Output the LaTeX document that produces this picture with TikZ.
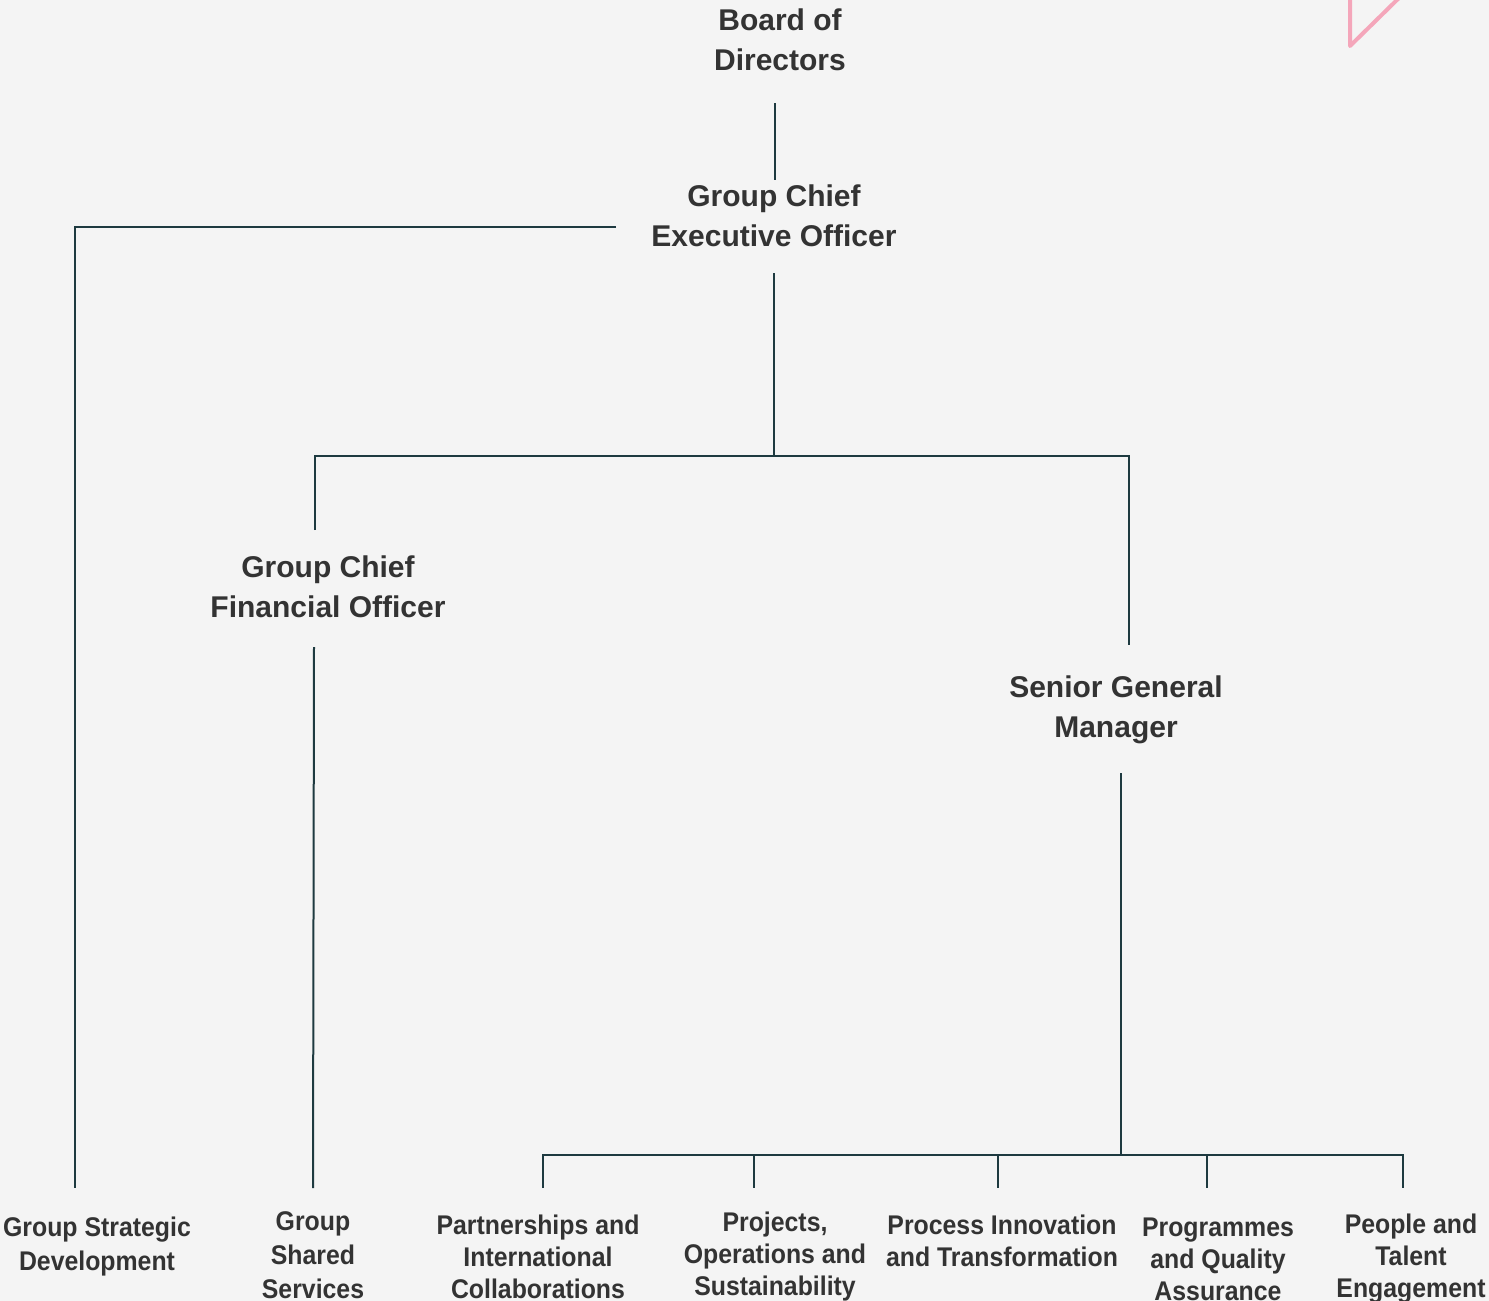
\documentclass[tikz,border=0pt]{standalone}
\usepackage{fontspec}
\setmainfont{Liberation Sans}
\newfontfamily\condfont[FakeStretch=0.92]{Liberation Sans}
\definecolor{bg}{HTML}{F4F4F4}
\definecolor{txt}{HTML}{333333}
\definecolor{ln}{HTML}{1E3A40}
\definecolor{pink}{HTML}{F4A6BA}
\begin{document}
\begin{tikzpicture}[x=1pt,y=-1pt,
  head/.style={font=\fontsize{30}{40}\selectfont\bfseries,text=txt,align=center,inner sep=0pt},
  unit/.style={font=\condfont\fontsize{27}{32}\selectfont\bfseries,text=txt,align=center,inner sep=0pt},
  unitwide/.style={unit,font=\condfont\fontsize{27}{34}\selectfont\bfseries},
  conn/.style={draw=ln,line width=2pt}]
\fill[bg] (0,0) rectangle (1489,1301);
\useasboundingbox (0,0) rectangle (1489,1301);
% decorative pink mark
\draw[pink,line width=4pt,line join=round,line cap=round] (1350,-5) -- (1350,46) -- (1402,-5);
% heads
\node[head] (bod) at (780,40) {Board of\\Directors};
\node[head] (ceo) at (774,216) {Group Chief\\Executive Officer};
\node[head] (cfo) at (328,587) {Group Chief\\Financial Officer};
\node[head] (sgm) at (1116,710) {Senior General\\Manager};
% units
\node[unitwide] (gsd) at (97,1247) {Group Strategic\\Development};
\node[unitwide] (gss) at (313,1255) {Group\\Shared\\Services};
\node[unit] (pic) at (538,1257) {Partnerships and\\International\\Collaborations};
\node[unit] (pos) at (775,1257) {Projects,\\Operations and\\Sustainability};
\node[unit] (pit) at (1002,1241) {Process Innovation\\and Transformation};
\node[unit] (pqa) at (1218,1259) {Programmes\\and Quality\\Assurance};
\node[unit] (pte) at (1411,1259) {People and\\Talent\\Engagement};
% coordinates
\coordinate (bodB) at (775,103);
\coordinate (ceoT) at (775,180);
\coordinate (ceoB) at (774,273);
\coordinate (ceoJ) at (774,456);
\coordinate (jL) at (315,456);
\coordinate (jR) at (1129,456);
\coordinate (cfoT) at (315,530);
\coordinate (sgmT) at (1129,645);
\coordinate (ceoL) at (616,227);
\coordinate (gsdC) at (75,227);
\coordinate (gsdT) at (75,1188);
\coordinate (cfoB) at (314,647);
\coordinate (gssT) at (313,1188);
\coordinate (sgmB) at (1121,773);
\coordinate (sgmJ) at (1121,1155);
\coordinate (bL) at (543,1155);
\coordinate (bR) at (1403,1155);
\coordinate (picT) at (543,1188);
\coordinate (posJ) at (754,1155);
\coordinate (posT) at (754,1188);
\coordinate (pitJ) at (998,1155);
\coordinate (pitT) at (998,1188);
\coordinate (pqaJ) at (1207,1155);
\coordinate (pqaT) at (1207,1188);
\coordinate (pteT) at (1403,1188);
% connectors
\draw[conn] (bodB) -- (ceoT);
\draw[conn] (ceoB) -- (ceoJ);
\draw[conn] (cfoT) -- (jL) -- (jR) -- (sgmT);
\draw[conn] (ceoL) -- (gsdC) -- (gsdT);
\draw[conn] (cfoB) -- (gssT);
\draw[conn] (sgmB) -- (sgmJ);
\draw[conn] (picT) -- (bL) -- (bR) -- (pteT);
\draw[conn] (posJ) -- (posT);
\draw[conn] (pitJ) -- (pitT);
\draw[conn] (pqaJ) -- (pqaT);
\end{tikzpicture}
\end{document}
